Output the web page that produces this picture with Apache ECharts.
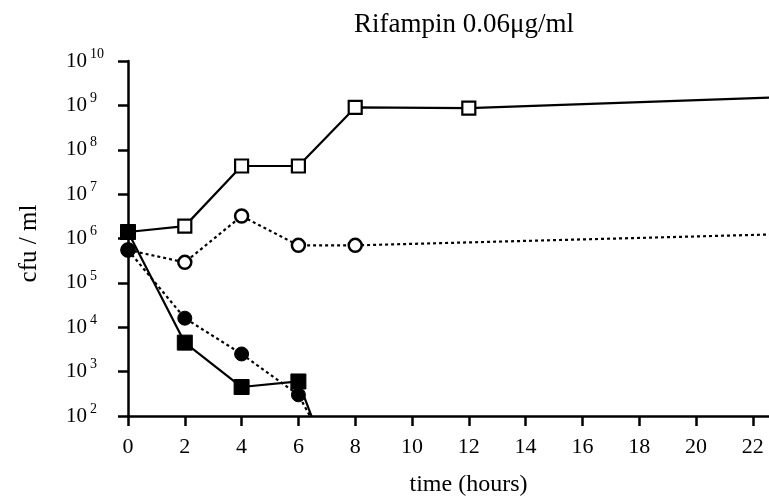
<!DOCTYPE html>
<html>
<head>
<meta charset="utf-8">
<script src="https://cdn.jsdelivr.net/npm/echarts@6/dist/echarts.min.js"></script>
<style>html,body{margin:0;padding:0;background:#fff;}#c{width:769px;height:499px;}</style>
</head>
<body>
<div id="c"></div>
<script>
// Data (hours, cfu/ml)
const titleText = 'Rifampin 0.06\u03bcg/ml';
const xTicks = [0, 2, 4, 6, 8, 10, 12, 14, 16, 18, 20, 22];
const yExponents = [2, 3, 4, 5, 6, 7, 8, 9, 10];

const openSquareX = [0, 2, 4, 6, 8, 12, 24];
const openSquareY = [1.4e6, 1.9e6, 4.3e7, 4.3e7, 9.0e8, 8.7e8, 1.6e9];

const openCircleX = [0, 2, 4, 6, 8, 24];
const openCircleY = [5.5e5, 2.9e5, 3.2e6, 7.0e5, 7.0e5, 1.3e6];

const filledCircleX = [0, 2, 4, 6, 7];
const filledCircleY = [5.5e5, 1.6e4, 2.5e3, 3.0e2, 20];

const filledSquareX = [0, 2, 4, 6, 7];
const filledSquareY = [1.4e6, 4.5e3, 4.5e2, 6.0e2, 12];

function pairs(xs, ys) { return xs.map((x, i) => [x, ys[i]]); }

const font = 'Liberation Serif';
const chart = echarts.init(document.getElementById('c'), null, {renderer: 'canvas'});
chart.setOption({
  animation: false,
  backgroundColor: '#fff',
  title: {
    text: titleText,
    left: 459, top: 6, textAlign: 'center',
    textStyle: {fontFamily: font, fontSize: 27, fontWeight: 'normal', color: '#000'}
  },
  grid: {left: 128, right: 0, top: 61, bottom: 83, containLabel: false, outerBoundsMode: 'none'},
  xAxis: {
    type: 'value', min: 0, max: 22.57, interval: 2,
    name: 'time (hours)', nameLocation: 'middle', nameGap: 57,
    nameTextStyle: {fontFamily: font, fontSize: 24, color: '#000', padding: [0, 0, 0, 40]},
    axisLine: {show: true, onZero: false, lineStyle: {color: '#000', width: 2.5}},
    axisTick: {show: true, length: 10, lineStyle: {color: '#000', width: 2.5}},
    axisLabel: {
      fontFamily: font, fontSize: 22, color: '#000', margin: 20,
      showMaxLabel: false,
      formatter: v => xTicks.indexOf(v) >= 0 ? String(v) : ''
    },
    splitLine: {show: false}
  },
  yAxis: {
    type: 'log', logBase: 10, min: 1e2, max: 1e10,
    name: 'cfu / ml', nameLocation: 'middle', nameGap: 86, nameRotate: 90,
    nameTextStyle: {fontFamily: font, fontSize: 25, color: '#000', padding: [0, 10, 0, 0]},
    axisLine: {show: true, lineStyle: {color: '#000', width: 2.5}},
    axisTick: {show: true, length: 10, lineStyle: {color: '#000', width: 2.5}},
    minorTick: {show: false},
    axisLabel: {
      margin: 62, align: 'left',
      formatter: v => {
        const e = Math.round(Math.log10(v));
        return yExponents.indexOf(e) >= 0 ? '{b|10}{s|' + e + '}' : '';
      },
      rich: {
        b: {fontFamily: font, fontSize: 21, color: '#000'},
        s: {fontFamily: font, fontSize: 14, color: '#000', padding: [0, 0, 14, 3]}
      }
    },
    splitLine: {show: false}
  },
  series: [
    {
      type: 'line', data: pairs(openSquareX, openSquareY), clip: true,
      symbol: 'rect', symbolSize: 13,
      lineStyle: {color: '#000', width: 2.2, type: 'solid'},
      itemStyle: {color: '#fff', borderColor: '#000', borderWidth: 2.2}, z: 2
    },
    {
      type: 'line', data: pairs(openCircleX, openCircleY), clip: true,
      symbol: 'circle', symbolSize: 13,
      lineStyle: {color: '#000', width: 2.2, type: [3, 3]},
      itemStyle: {color: '#fff', borderColor: '#000', borderWidth: 2.5}, z: 2
    },
    {
      type: 'line', data: pairs(filledCircleX, filledCircleY), clip: true,
      symbol: 'circle', symbolSize: 14,
      lineStyle: {color: '#000', width: 2.2, type: [3, 3]},
      itemStyle: {color: '#000', borderColor: '#000', borderWidth: 1}, z: 3
    },
    {
      type: 'line', data: pairs(filledSquareX, filledSquareY), clip: true,
      symbol: 'rect', symbolSize: 15,
      lineStyle: {color: '#000', width: 2.2, type: 'solid'},
      itemStyle: {color: '#000', borderColor: '#000', borderWidth: 1}, z: 3
    }
  ]
});
</script>
</body>
</html>
